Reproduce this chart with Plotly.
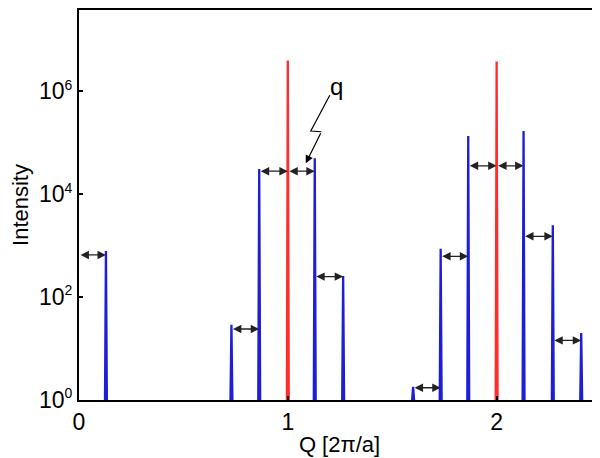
import numpy as np
import plotly.graph_objects as go

# ---- data ----
blue_q = [0.129, 0.730, 0.863, 1.129, 1.265, 1.600, 1.732, 1.864, 2.129, 2.269, 2.405]
blue_h = [790, 29, 31000, 50000, 258, 1.8, 870, 1.35e5, 1.7e5, 2500, 20]
red_q = [1.0, 2.0]
red_h = [3.98e6, 3.8e6]

arrow_from = [0.0, 0.730, 0.863, 1.0, 1.129, 1.600, 1.732, 1.864, 2.0, 2.129, 2.269]
arrow_to = [0.129, 0.863, 1.0, 1.129, 1.265, 1.732, 1.864, 2.0, 2.129, 2.269, 2.405]
arrow_h = [660, 24, 28000, 28000, 250, 1.73, 620, 35600, 35600, 1520, 14.4]

# zigzag pointer for the "q" label (Q, intensity)
pointer_q = [1.201, 1.110, 1.161, 1.086]
pointer_i = [10**5.923, 10**5.228, 10**5.214, 10**4.602]
label_q = 1.232
label_i = 10**6.10

x_ticks = [0, 1, 2]
y_ticks = [1, 1e2, 1e4, 1e6]
y_exps = ["0", "2", "4", "6"]
y_ticktext = ["10<sup><span style='font-size:14px'>%s</span></sup>" % e for e in y_exps]

FONT = "Liberation Sans, Arial, Helvetica, sans-serif"
BLUE = "rgb(30,30,215)"
RED = "rgb(255,45,45)"
HALF = 0.0045


def spikes(qs, hs):
    xs, ys = [], []
    for q, h in zip(qs, hs):
        xs += [q - HALF, q, q + HALF, None]
        ys += [1, h, 1, None]
    return xs, ys


fig = go.Figure()
bx, by = spikes(blue_q, blue_h)
fig.add_trace(go.Scatter(x=bx, y=by, mode="lines",
                         line=dict(color=BLUE, width=2.3), hoverinfo="skip"))
rx, ry = spikes(red_q, red_h)
fig.add_trace(go.Scatter(x=rx, y=ry, mode="lines",
                         line=dict(color=RED, width=2.3), hoverinfo="skip"))

# zigzag pointer line
fig.add_trace(go.Scatter(x=pointer_q[:3], y=pointer_i[:3], mode="lines",
                         line=dict(color="black", width=1.2), hoverinfo="skip"))

annotations = []
for a, b, h in zip(arrow_from, arrow_to, arrow_h):
    ly = float(np.log10(h))
    annotations.append(dict(
        x=b, y=ly, ax=a, ay=ly, xref="x", yref="y", axref="x", ayref="y",
        text="", showarrow=True, arrowhead=2, arrowside="end+start",
        arrowsize=1.3, arrowwidth=1.3, arrowcolor="#222",
        standoff=0, startstandoff=0))

annotations.append(dict(
    x=pointer_q[3], y=float(np.log10(pointer_i[3])),
    ax=pointer_q[2], ay=float(np.log10(pointer_i[2])),
    xref="x", yref="y", axref="x", ayref="y", text="", showarrow=True,
    arrowhead=2, arrowsize=1.3, arrowwidth=1.2, arrowcolor="black",
    standoff=0))

annotations.append(dict(
    x=label_q, y=float(np.log10(label_i)), xref="x", yref="y",
    text="q", showarrow=False, font=dict(family=FONT, size=24, color="black")))

# page body has an 8px default margin: figure is sized/offset to compensate
fig.update_layout(
    width=592, height=450,
    margin=dict(l=71, r=0, t=0, b=58),
    paper_bgcolor="white", plot_bgcolor="white",
    showlegend=False,
    font=dict(family=FONT, size=22, color="black"),
    annotations=annotations,
    xaxis=dict(
        range=[0, 2.495], tickvals=x_ticks, ticktext=[str(t) for t in x_ticks],
        ticks="inside", ticklen=4, tickwidth=1.5, tickcolor="black",
        showline=True, linecolor="black", linewidth=2, mirror=True,
        showgrid=False, zeroline=False,
        tickfont=dict(family=FONT, size=23),
        title=dict(text="Q [2π/a]", font=dict(family=FONT, size=22), standoff=3),
    ),
    yaxis=dict(
        type="log", range=[0, 7.58], tickvals=y_ticks, ticktext=y_ticktext,
        ticks="inside", ticklen=4, tickwidth=1.5, tickcolor="black",
        showline=True, linecolor="black", linewidth=2, mirror=False,
        showgrid=False, zeroline=False,
        tickfont=dict(family=FONT, size=23),
        title=dict(text="Intensity", font=dict(family=FONT, size=22), standoff=4),
    ),
)

fig.write_html("out.html")
